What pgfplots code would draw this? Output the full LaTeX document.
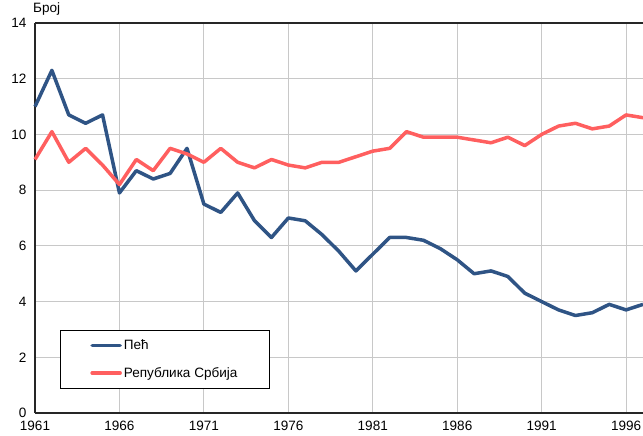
\documentclass[border=0pt]{standalone}
\usepackage{pgfplots}
\pgfplotsset{compat=1.18}
\usepackage{fontspec}
\setmainfont{Liberation Sans}
\definecolor{pecblue}{HTML}{2F5485}
\definecolor{srbred}{HTML}{FF5F5F}
\definecolor{gridgray}{HTML}{C8C8C8}
\begin{document}
\begin{tikzpicture}
\begin{axis}[
  scale only axis, width=608bp, height=390bp,
  at={(0,0)}, anchor=south west,
  xmin=1961, xmax=1997, ymin=0, ymax=14,
  xtick={1961,1966,...,1996}, ytick={0,2,...,14},
  xticklabels={1961,1966,1971,1976,1981,1986,1991,1996},
  axis x line=bottom, axis y line=left,
  axis line style={-, line width=1.1pt, black!85},
  major tick length=0pt,
  grid=major, major grid style={gridgray, line width=1.1pt},
  tick label style={font=\fontsize{13.6}{15}\selectfont},
  /pgf/number format/assume math mode=true,
  xticklabel style={yshift=-5bp},
  yticklabel style={xshift=-5bp},
  legend style={at={(0.0411,0.0615)}, anchor=south west, draw=black, line width=0.8pt,
    inner xsep=30bp, inner ysep=8bp, font=\fontsize{13.6}{15}\selectfont,
    row sep=12bp, cells={anchor=west}},
  legend image code/.code={\draw[#1, line width=3.5bp, line cap=round] (0bp,0bp) -- (28bp,0bp);},
  legend cell align=left,
  clip=false,
]
\addplot[pecblue, line width=3.5bp, line join=round] coordinates {
(1961,11.0)(1962,12.3)(1963,10.7)(1964,10.4)(1965,10.7)(1966,7.9)(1967,8.7)(1968,8.4)(1969,8.6)(1970,9.5)
(1971,7.5)(1972,7.2)(1973,7.9)(1974,6.9)(1975,6.3)(1976,7.0)(1977,6.9)(1978,6.4)(1979,5.8)(1980,5.1)
(1981,5.7)(1982,6.3)(1983,6.3)(1984,6.2)(1985,5.9)(1986,5.5)(1987,5.0)(1988,5.1)(1989,4.9)(1990,4.3)
(1991,4.0)(1992,3.7)(1993,3.5)(1994,3.6)(1995,3.9)(1996,3.7)(1997,3.9)};
\addlegendentry{Пећ}
\addplot[srbred, line width=3.5bp, line join=round] coordinates {
(1961,9.1)(1962,10.1)(1963,9.0)(1964,9.5)(1965,8.9)(1966,8.2)(1967,9.1)(1968,8.7)(1969,9.5)(1970,9.3)
(1971,9.0)(1972,9.5)(1973,9.0)(1974,8.8)(1975,9.1)(1976,8.9)(1977,8.8)(1978,9.0)(1979,9.0)(1980,9.2)
(1981,9.4)(1982,9.5)(1983,10.1)(1984,9.9)(1985,9.9)(1986,9.9)(1987,9.8)(1988,9.7)(1989,9.9)(1990,9.6)
(1991,10.0)(1992,10.3)(1993,10.4)(1994,10.2)(1995,10.3)(1996,10.7)(1997,10.6)};
\addlegendentry{Република Србија}
\draw[line width=1.1pt, black!85] (rel axis cs:0,1) -- (rel axis cs:1,1);
\node[anchor=south west, inner sep=0pt, font=\fontsize{13.6}{15}\selectfont] at ([xshift=-2bp,yshift=7bp]rel axis cs:0,1) {Број};
\end{axis}
\pgfresetboundingbox
\path (-35bp,-23bp) rectangle (608bp,413bp);
\end{tikzpicture}
\end{document}
